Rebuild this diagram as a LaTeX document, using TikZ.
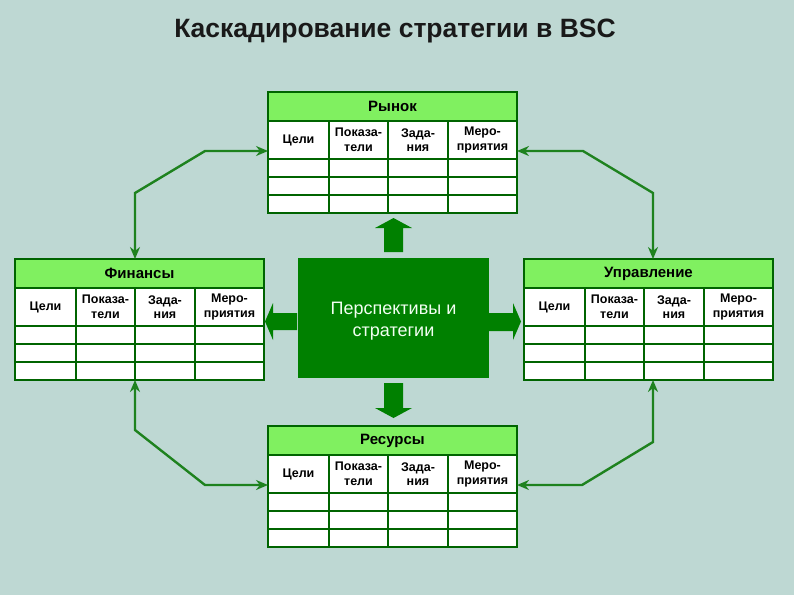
\documentclass[tikz,border=0pt]{standalone}
\usepackage{fontspec}
\setmainfont{Liberation Sans}
\usetikzlibrary{positioning,arrows.meta,calc}
\definecolor{bgcol}{RGB}{190,216,211}
\definecolor{framecol}{RGB}{0,100,0}
\definecolor{headcol}{RGB}{128,240,96}
\definecolor{corecol}{RGB}{0,128,0}
\definecolor{linkcol}{RGB}{30,130,30}

\tikzset{
  cell/.style={draw=framecol, line width=1.8pt, fill=white, inner sep=0pt,
    outer sep=0pt, anchor=north west, align=center,
    font=\fontsize{12.5}{14.5}\selectfont\bfseries},
  headcell/.style={cell, fill=headcol, minimum width=249pt, minimum height=29pt,
    font=\fontsize{15}{17}\selectfont\bfseries},
  link/.style={draw=linkcol, line width=2.4pt,
    {Stealth[length=12pt,width=10pt]}-{Stealth[length=12pt,width=10pt]}},
  blockarr/.style={fill=corecol},
}

% one BSC table: name, top left corner, title
\newcommand{\bsctable}[3]{%
  \node[headcell] (#1) at (#2) {#3};
  \foreach \xo/\w/\txt [count=\i] in {0/61/Цели, 61/59/{Показа-\\тели},
      120/60/{Зада-\\ния}, 180/69/{Меро-\\приятия}} {
    \node[cell, minimum width=\w pt, minimum height=38pt] (#1-c\i)
      at ($(#1.south west)+(\xo,0)$) {\txt};
    \foreach \r in {0,1,2}
      \node[cell, minimum width=\w pt, minimum height=18pt] (#1-r\r-\i)
        at ($(#1-c\i.south west)+(0,18*\r)$) {};
  }
}

\begin{document}
\begin{tikzpicture}[x=1pt, y=-1pt]
\fill[bgcol] (0,0) rectangle (794,595);
\useasboundingbox (0,0) rectangle (794,595);

\node[font=\fontsize{26.5}{30}\selectfont\bfseries, text=black!90] (title)
  at (395,31) {Каскадирование стратегии в BSC};

% tables
\bsctable{mkt}{268,92}{Рынок}
\bsctable{fin}{15,259}{Финансы}
\bsctable{mgt}{524,259}{Управление}
\bsctable{res}{268,426}{Ресурсы}

% centre block
\node[fill=corecol, minimum width=191pt, minimum height=120pt,
  label={[name=core-text, yshift=-3pt, align=center, text=green!5,
    font=\fontsize{18}{22}\selectfont]center:Перспективы и\\стратегии}]
  (core) at (393.5,318) {};

% block arrows
\fill[blockarr] (384,252) -- (384,228) -- (375,228) -- (393.5,218)
  -- (412,228) -- (403,228) -- (403,252) -- cycle;
\fill[blockarr] (384,383) -- (384,408) -- (375,408) -- (393.5,418)
  -- (412,408) -- (403,408) -- (403,383) -- cycle;
\fill[blockarr] (297,313) -- (273,313) -- (273,303) -- (265,321.5)
  -- (273,340) -- (273,330) -- (297,330) -- cycle;
\fill[blockarr] (489,313) -- (513,313) -- (513,303) -- (521,321.5)
  -- (513,340) -- (513,331) -- (489,331) -- cycle;

% links between the tables
\draw[link] ([xshift=120pt]fin.north west) -- ++(0,-66) -- ++(70,-42)
  -- ([yshift=-11pt]mkt-c1.west);
\draw[link] ([yshift=-11pt]mkt-c4.east) -- ++(66,0) -- ++(70,42)
  -- ([xshift=129pt]mgt.north west);
\draw[link] ([xshift=120pt]fin-r2-1.south west) -- ++(0,50) -- ++(70,55)
  -- ([yshift=-11pt]res-c1.west);
\draw[link] ([yshift=-11pt]res-c4.east) -- ++(65,0) -- ++(71,-43)
  -- ([xshift=129pt]mgt-r2-1.south west);
\end{tikzpicture}
\end{document}
